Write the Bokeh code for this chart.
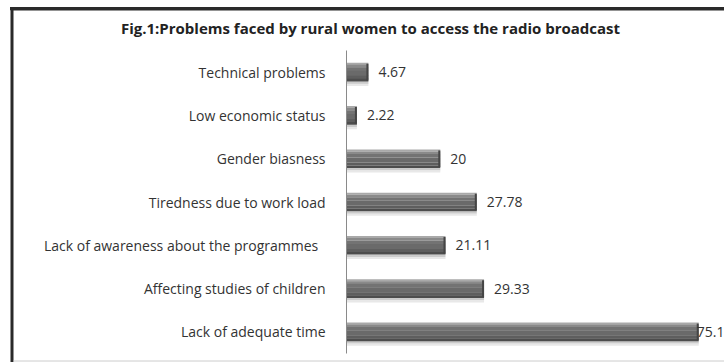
from bokeh.plotting import figure
from bokeh.models import Range1d, Label, InlineStyleSheet
from bokeh.core.properties import value
from bokeh.embed import file_html
from bokeh.resources import INLINE

# ---- data ----
categories = [
    "Technical problems",
    "Low economic status",
    "Gender biasness",
    "Tiredness due to work load",
    "Lack of  awareness about the  programmes",
    "Affecting studies of children",
    "Lack of adequate time",
]
values = [4.67, 2.22, 20, 27.78, 21.11, 29.33, 75.1]
value_labels = ["4.67", "2.22", "20", "27.78", "21.11", "29.33", "75.1"]
title_text = "Fig.1:Problems faced by rural women to access the radio broadcast"

# ---- layout helpers (pixel geometry) ----
W, H = 724, 362
X0PX = 346.0      # pixel of value 0
PXU = 4.69        # pixels per unit
PITCH = 43.3      # pixels per category
Y0PX = 71.6       # pixel centre of first category

def px2x(p):
    return (p - X0PX) / PXU

def px2y(p):
    return (p - Y0PX) / PITCH

FONT = "Open Sans"

p = figure(width=W, height=H, output_backend="svg", toolbar_location=None,
           title=None,
           x_range=Range1d(px2x(0), px2x(W)),
           y_range=Range1d(px2y(H), px2y(0)),
           x_axis_location=None, y_axis_location=None, min_border=0)
p.outline_line_color = None
p.grid.visible = False

# top frame line drawn by the page as a fallback overlay
p.stylesheets = [InlineStyleSheet(css=(
    ":host { position: relative; }"
    ":host::after { content: ''; position: absolute; left: 10px; top: 7px;"
    " width: 714px; height: 3px; background: #2a2a2a; z-index: 100;"
    " pointer-events: none; }"
))]

ys = list(range(len(categories)))
bar_h = 18.5 / PITCH
top_px = -9.25

strips = [
    (18.5, 21.0, "#cbcbcb"),
    (21.0, 23.0, "#e8e8e8"),
    (0.0, 2.0, "#a9a9a9"),
    (2.0, 4.5, "#8a8a8a"),
    (4.5, 8.0, "#737373"),
    (8.0, 13.0, "#6a6a6a"),
    (13.0, 16.0, "#5e5e5e"),
    (16.0, 18.5, "#4d4d4d"),
]
for a, b, col in strips:
    c = (top_px + (a + b) / 2.0) / PITCH
    p.hbar(y=[yy + c for yy in ys], left=0, right=values,
           height=(b - a) / PITCH + 0.002, fill_color=col, line_color=None)

# right end cap
p.hbar(y=ys, left=[v - 2.0 / PXU for v in values], right=values,
       height=bar_h * 0.9, fill_color="#454545", line_color=None)

# axis line
p.line(x=[0, 0], y=[px2y(50), px2y(353)], line_color="#8a8a8a", line_width=1)

# category labels
p.text(x=[0] * len(ys), y=ys, text=categories, x_offset=-21,
       text_align="right", text_baseline="middle",
       text_font=value(FONT), text_font_size="14px", text_color="#333333")

# value labels
xmax = px2x(W)
gap = 10.0 / PXU
inside_x, inside_y, inside_t = [], [], []
edge_y, edge_t = [], []
for v, yy, t in zip(values, ys, value_labels):
    if v + gap + 30.0 / PXU > xmax:
        edge_y.append(yy)
        edge_t.append(t)
    else:
        inside_x.append(v)
        inside_y.append(yy)
        inside_t.append(t)
p.text(x=inside_x, y=inside_y, text=inside_t, x_offset=10,
       text_align="left", text_baseline="middle",
       text_font=value(FONT), text_font_size="14px", text_color="#333333")
p.text(x=[xmax] * len(edge_y), y=edge_y, text=edge_t, x_offset=0,
       text_align="right", text_baseline="middle",
       text_font=value(FONT), text_font_size="14px", text_color="#333333")

# title
p.add_layout(Label(x=px2x(370), y=px2y(27), text=title_text,
                   text_align="center", text_baseline="middle",
                   text_font=FONT, text_font_size="15px",
                   text_font_style="bold", text_color="#222222"))

# outer frame lines
p.line(x=[px2x(10), px2x(W)], y=[px2y(8.5), px2y(8.5)],
       line_color="#2a2a2a", line_width=3, level="overlay")
p.line(x=[px2x(11.5), px2x(11.5)], y=[px2y(7), px2y(H)],
       line_color="#2a2a2a", line_width=3, level="overlay")
p.line(x=[px2x(13), px2x(W)], y=[px2y(360.5), px2y(360.5)],
       line_color="#cccccc", line_width=1, level="overlay")

open("out.html", "w").write(file_html(p, INLINE))
